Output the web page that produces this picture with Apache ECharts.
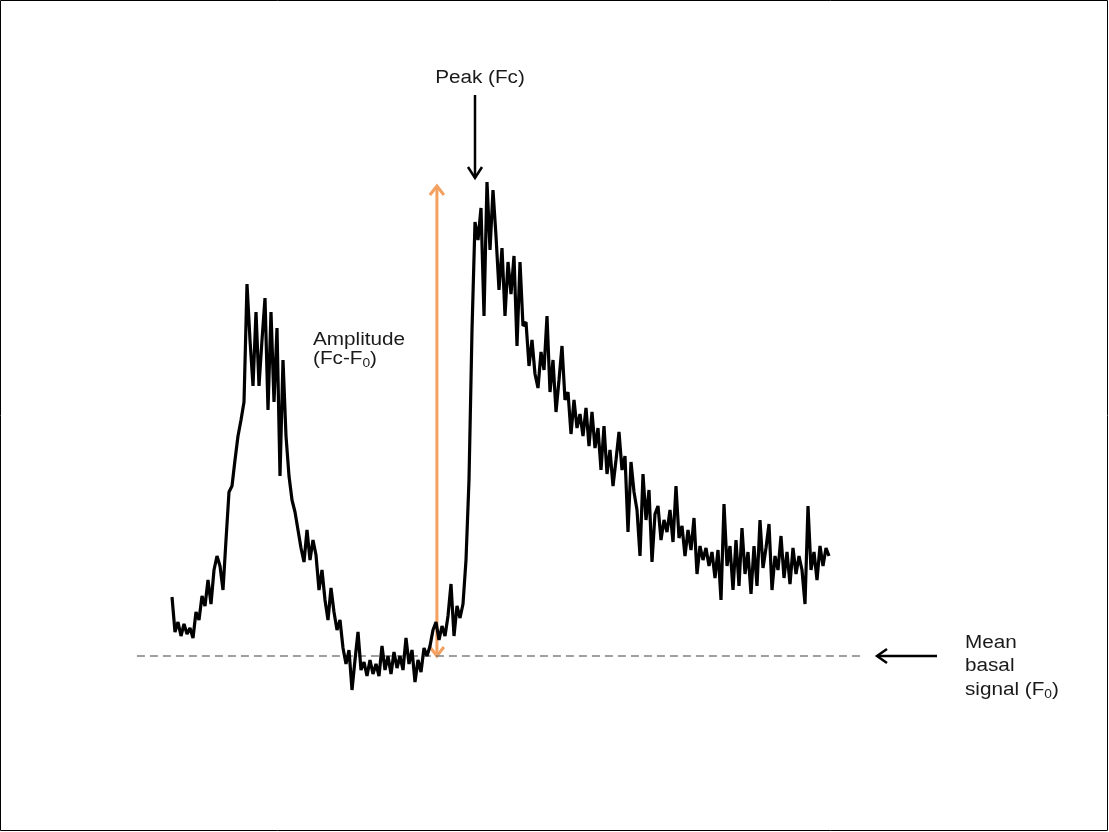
<!DOCTYPE html>
<html>
<head>
<meta charset="utf-8">
<script src="https://cdn.jsdelivr.net/npm/echarts@6/dist/echarts.min.js"></script>
<style>
  html, body { margin: 0; padding: 0; background: #fff; }
  #chart { width: 1109px; height: 832px; }
</style>
</head>
<body>
<div id="chart"></div>
<script>
// Fluorescence trace (arbitrary units), one value per sample
const signal = [
  235,200,210,196,208,198,204,194,220,212,
  236,226,252,228,262,276,266,242,292,340,
  346,372,396,412,430,548,492,446,520,446,
  492,534,422,520,430,504,356,472,396,356,
  332,320,302,284,270,302,272,292,277,242,
  262,232,212,244,220,202,212,184,168,182,
  142,172,200,162,170,156,172,158,168,156,
  186,162,176,158,180,164,176,162,194,168,
  182,150,172,160,184,176,186,202,210,192,
  206,196,216,248,196,226,214,228,272,352,
  502,610,592,624,516,650,582,642,596,542,
  584,516,570,538,576,486,570,506,510,466,
  492,458,444,480,462,516,440,472,420,452,
  486,432,440,398,432,404,418,396,424,386,
  420,384,404,362,406,358,382,346,372,400,
  362,376,300,370,340,322,276,358,312,342,
  270,318,326,292,312,300,322,290,346,294,
  306,276,302,282,314,258,286,272,284,266,
  280,254,282,232,328,266,286,242,292,246,
  304,258,280,238,286,246,312,264,284,308,
  242,276,262,296,254,280,248,284,258,276,
  262,228,326,262,280,252,286,266,284,276
];
// Mean basal signal F0 and the extent of the dashed reference line (samples)
const F0 = 176;
const baselineExtent = [-11.7, 229.3];
// Annotation arrows: [x1, y1, x2, y2] in sample / signal units
const amplitudeArrow = [88.3, 176, 88.3, 646];
const peakArrow = [101, 737, 101, 654];
const basalArrow = [255, 176, 235, 176];

const chart = echarts.init(document.getElementById('chart'), null, { renderer: 'canvas' });

function arrowSeries(coords, color, width, headLen, headHalf, both) {
  return {
    type: 'custom',
    silent: true,
    data: [coords],
    renderItem: function (params, api) {
      const a = api.coord([api.value(0), api.value(1)]);
      const b = api.coord([api.value(2), api.value(3)]);
      const head = function (tip, from) {
        const dx = tip[0] - from[0], dy = tip[1] - from[1];
        const L = Math.hypot(dx, dy);
        const ux = dx / L, uy = dy / L, px = -uy, py = ux;
        return {
          type: 'polyline',
          shape: { points: [
            [tip[0] - ux * headLen + px * headHalf, tip[1] - uy * headLen + py * headHalf],
            [tip[0], tip[1]],
            [tip[0] - ux * headLen - px * headHalf, tip[1] - uy * headLen - py * headHalf]
          ] },
          style: { stroke: color, lineWidth: width, fill: null, lineJoin: 'miter' }
        };
      };
      const children = [
        { type: 'line', shape: { x1: a[0], y1: a[1], x2: b[0], y2: b[1] },
          style: { stroke: color, lineWidth: width } },
        head(b, a)
      ];
      if (both) children.push(head(a, b));
      return { type: 'group', children: children };
    }
  };
}

const textFont = '"Liberation Sans", Arial, sans-serif';
const txt = function (x, y, text, align) {
  return {
    type: 'text', x: x, y: y, scaleX: 1.15, silent: true,
    style: {
      text: text, fill: '#1a1a1a', font: '18px ' + textFont, lineHeight: 22,
      textAlign: align, textVerticalAlign: 'middle',
      rich: {
        s: { fontSize: 12, fontFamily: textFont, fill: '#1a1a1a', lineHeight: 10,
             padding: [12, 0, 0, 0], verticalAlign: 'bottom' }
      }
    }
  };
};

chart.setOption({
  animation: false,
  backgroundColor: '#ffffff',
  grid: { left: 0, right: 0, top: 0, bottom: 0 },
  xAxis: { type: 'value', min: -57.333, max: 312.333, show: false },
  yAxis: { type: 'value', min: 0, max: 832, show: false },
  series: [
    {
      type: 'line',
      data: baselineExtent.map(function (x) { return [x, F0]; }),
      showSymbol: false, silent: true,
      lineStyle: { color: '#808080', width: 1.6, type: [8, 5] }
    },
    {
      type: 'line',
      data: signal.map(function (v, i) { return [i, v]; }),
      showSymbol: false, silent: true,
      lineStyle: { color: '#000000', width: 3.2 }
    },
    arrowSeries(amplitudeArrow, '#F4A060', 3, 9, 7, true),
    arrowSeries(peakArrow, '#000000', 2.5, 11, 7, false),
    arrowSeries(basalArrow, '#000000', 2.5, 10, 7, false)
  ],
  graphic: [
    { type: 'rect', silent: true, shape: { x: 0.5, y: 0.5, width: 1107, height: 830 },
      style: { stroke: '#000', lineWidth: 1, fill: null } },
    txt(480, 78, 'Peak (Fc)', 'center'),
    txt(313, 340, 'Amplitude', 'left'),
    txt(313, 359, '(Fc-F{s|0})', 'left'),
    txt(965, 643, 'Mean', 'left'),
    txt(965, 666, 'basal', 'left'),
    txt(965, 690, 'signal (F{s|0})', 'left')
  ]
});
</script>
</body>
</html>
